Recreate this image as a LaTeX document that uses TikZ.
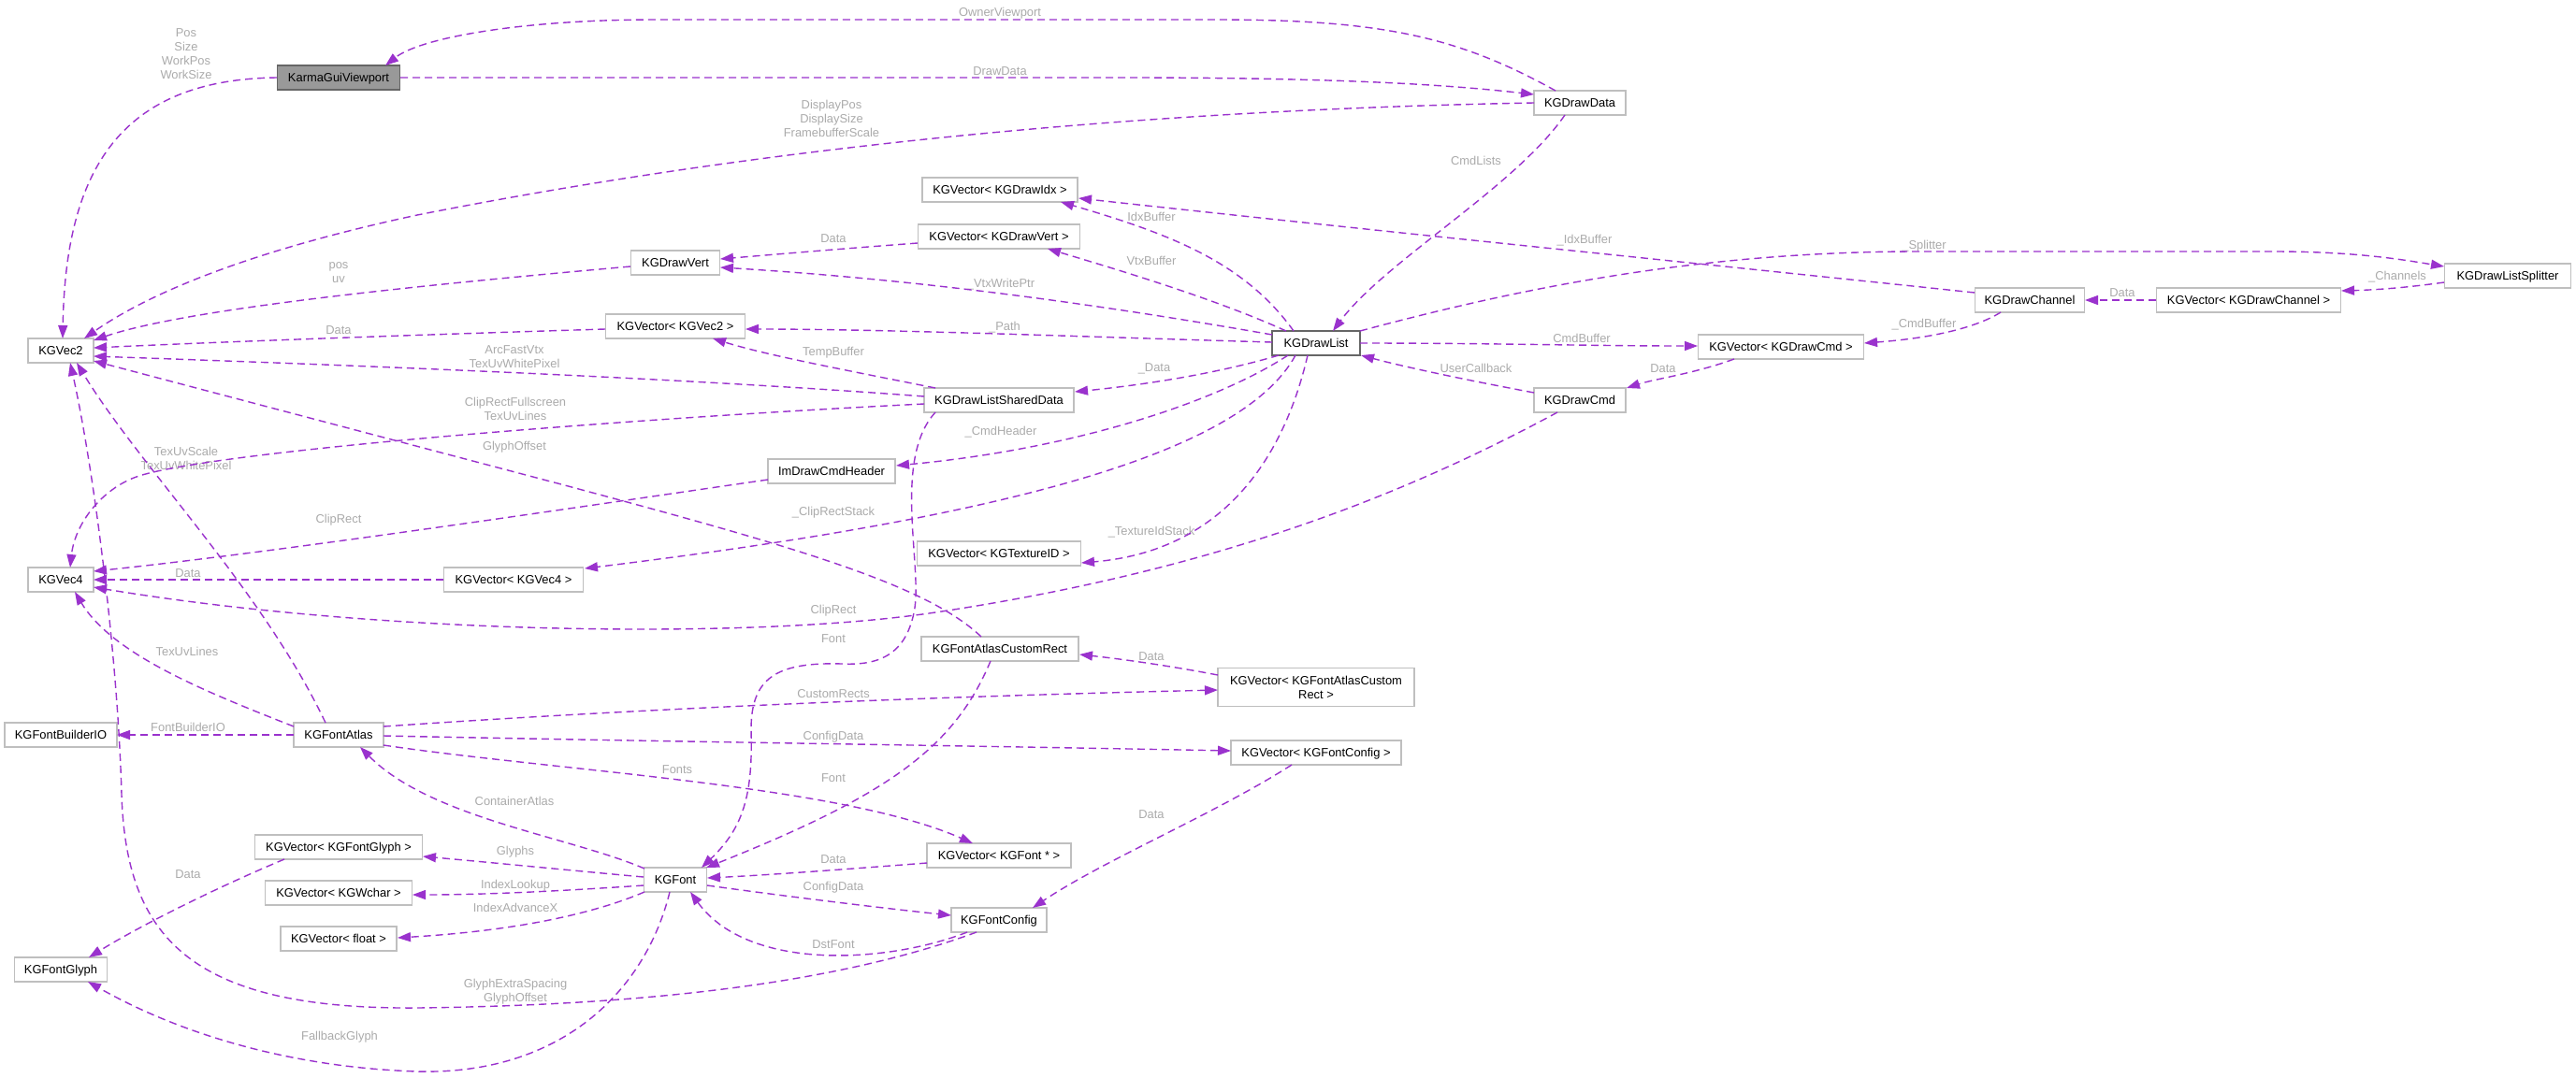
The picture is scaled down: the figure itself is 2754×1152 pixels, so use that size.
\documentclass[tikz,border=0pt]{standalone}
\usepackage{fontspec}
\setmainfont{Liberation Sans}
\usetikzlibrary{arrows.meta,calc}
\definecolor{edgec}{HTML}{9A32CD}
\definecolor{lblc}{HTML}{ABABAB}
\definecolor{bord}{HTML}{BFBFBF}
\definecolor{bordd}{HTML}{666666}
\definecolor{mainfill}{HTML}{999999}
\newcommand{\dfs}{\fontsize{12.9pt}{15pt}\selectfont}
\begin{document}
\begin{tikzpicture}[x=1pt,y=-1pt,
 cls/.style={draw=bord,line width=1.3pt,fill=white,minimum height=26pt,inner sep=0pt,font=\dfs,text=black,align=center,text height=9.6pt,text depth=0.4pt},
 cls2/.style={draw=bord,line width=1.3pt,fill=white,minimum height=41pt,inner sep=0pt,font=\dfs,text=black,align=center},
 lbl/.style={inner sep=0pt,font=\dfs,text=lblc,align=center},
 rel/.style={draw=edgec,line width=1.4pt,dash pattern=on 8pt off 5pt,-{Triangle[length=14pt,width=10pt]}}]
\useasboundingbox[fill=white] (0,0) rectangle (2754,1152);
% nodes
\node[cls,fill=mainfill,draw=bordd,minimum width=131pt] (vp) at (362,83) {KarmaGuiViewport};
\node[cls,minimum width=98pt] (drawdata) at (1689,110) {KGDrawData};
\node[cls,minimum width=70pt] (vec2) at (65,375) {KGVec2};
\node[cls,minimum width=166pt] (vidx) at (1069,203) {KGVector< KGDrawIdx >};
\node[cls,minimum width=173pt] (vvert) at (1068,253) {KGVector< KGDrawVert >};
\node[cls,minimum width=95pt] (dvert) at (722,281) {KGDrawVert};
\node[cls,minimum width=149pt] (vvec2) at (722,349) {KGVector< KGVec2 >};
\node[cls,draw=bordd,minimum width=94pt] (dlist) at (1407,367) {KGDrawList};
\node[cls,minimum width=177pt] (vcmd) at (1904,371) {KGVector< KGDrawCmd >};
\node[cls,minimum width=135pt] (splitter) at (2681,295) {KGDrawListSplitter};
\node[cls,minimum width=197pt] (vchan) at (2404,321) {KGVector< KGDrawChannel >};
\node[cls,minimum width=117pt] (chan) at (2170,321) {KGDrawChannel};
\node[cls,minimum width=160pt] (shared) at (1068,428) {KGDrawListSharedData};
\node[cls,minimum width=98pt] (cmd) at (1689,428) {KGDrawCmd};
\node[cls,minimum width=136pt] (hdr) at (889,504) {ImDrawCmdHeader};
\node[cls,minimum width=175pt] (vtex) at (1068,592) {KGVector< KGTextureID >};
\node[cls,minimum width=70pt] (vec4) at (65,620) {KGVec4};
\node[cls,minimum width=149pt] (vvec4) at (549,620) {KGVector< KGVec4 >};
\node[cls,minimum width=168pt] (crect) at (1069,694) {KGFontAtlasCustomRect};
\node[cls2,minimum width=210pt] (vcrect) at (1407,735) {KGVector< KGFontAtlasCustom\\Rect >};
\node[cls,minimum width=120pt] (fbio) at (65,786) {KGFontBuilderIO};
\node[cls,minimum width=96pt] (atlas) at (362,786) {KGFontAtlas};
\node[cls,minimum width=182pt] (vcfg) at (1407,805) {KGVector< KGFontConfig >};
\node[cls,minimum width=179pt] (vglyph) at (362,906) {KGVector< KGFontGlyph >};
\node[cls,minimum width=154pt] (vfont) at (1068,915) {KGVector< KGFont * >};
\node[cls,minimum width=67pt] (font) at (722,941) {KGFont};
\node[cls,minimum width=157pt] (vwchar) at (362,955) {KGVector< KGWchar >};
\node[cls,minimum width=102pt] (cfg) at (1068,984) {KGFontConfig};
\node[cls,minimum width=124pt] (vfloat) at (362,1004) {KGVector< float >};
\node[cls,minimum width=99pt] (glyph) at (65,1037) {KGFontGlyph};
% labels
\node[lbl] (l1) at (199,58) {Pos\\Size\\WorkPos\\WorkSize};
\node[lbl] (l2) at (1069,76) {DrawData};
\node[lbl] (l3) at (1069,14) {OwnerViewport};
\node[lbl] (l4) at (889,127) {DisplayPos\\DisplaySize\\FramebufferScale};
\node[lbl] (l5) at (1578,172) {CmdLists};
\node[lbl] (l6) at (362,292) {pos\\uv};
\node[lbl] (l7) at (362,353) {Data};
\node[lbl] (l8) at (550,382) {ArcFastVtx\\TexUvWhitePixel};
\node[lbl] (l9) at (551,437) {ClipRectFullscreen\\TexUvLines};
\node[lbl] (l10) at (362,556) {ClipRect};
\node[lbl] (l11) at (201,613) {Data};
\node[lbl] (l12) at (891,653) {ClipRect};
\node[lbl] (l13) at (200,697) {TexUvLines};
\node[lbl] (l14) at (199,490) {TexUvScale\\TexUvWhitePixel};
\node[lbl] (l15) at (551,1061) {GlyphExtraSpacing\\GlyphOffset};
\node[lbl] (l16) at (550,478) {GlyphOffset};
\node[lbl] (l17) at (1231,232) {IdxBuffer};
\node[lbl] (l18) at (1231,279) {VtxBuffer};
\node[lbl] (l19) at (1070,304) {\_VtxWritePtr};
\node[lbl] (l20) at (1074,350) {\_Path};
\node[lbl] (l21) at (1234,394) {\_Data};
\node[lbl] (l22) at (1070,462) {\_CmdHeader};
\node[lbl] (l23) at (891,548) {\_ClipRectStack};
\node[lbl] (l24) at (1231,569) {\_TextureIdStack};
\node[lbl] (l25) at (1691,362) {CmdBuffer};
\node[lbl] (l26) at (2057,263) {\_Splitter};
\node[lbl] (l27) at (1694,257) {\_IdxBuffer};
\node[lbl] (l28) at (2057,347) {\_CmdBuffer};
\node[lbl] (l29) at (2269,313) {Data};
\node[lbl] (l30) at (2563,296) {\_Channels};
\node[lbl] (l31) at (1578,394) {UserCallback};
\node[lbl] (l32) at (1778,394) {Data};
\node[lbl] (l33) at (891,255) {Data};
\node[lbl] (l34) at (891,377) {TempBuffer};
\node[lbl] (l35) at (891,683) {Font};
\node[lbl] (l36) at (891,832) {Font};
\node[lbl] (l37) at (1231,702) {Data};
\node[lbl] (l38) at (891,742) {CustomRects};
\node[lbl] (l39) at (891,788) {ConfigData};
\node[lbl] (l40) at (724,823) {Fonts};
\node[lbl] (l41) at (201,778) {FontBuilderIO};
\node[lbl] (l42) at (550,857) {ContainerAtlas};
\node[lbl] (l43) at (551,911) {Glyphs};
\node[lbl] (l44) at (551,947) {IndexLookup};
\node[lbl] (l45) at (551,971) {IndexAdvanceX};
\node[lbl] (l46) at (363,1109) {FallbackGlyph};
\node[lbl] (l47) at (201,935) {Data};
\node[lbl] (l48) at (891,919) {Data};
\node[lbl] (l49) at (891,949) {ConfigData};
\node[lbl] (l50) at (891,1010) {DstFont};
\node[lbl] (l51) at (1231,871) {Data};
% edges
\draw[rel] ($(vp)+(-66,0)$) .. controls (130,85) and (70,180) .. ($(vec2)+(2,-13)$);
\draw[rel] ($(vp)+(66,0)$) -- (1200,83) .. controls (1450,83) and (1560,92) .. ($(drawdata)+(-49,-9)$);
\draw[rel] ($(drawdata)+(-26,-13)$) .. controls (1560,40) and (1480,21) .. (1300,21) -- (700,21) .. controls (560,21) and (450,40) .. ($(vp)+(50,-13)$);
\draw[rel] ($(drawdata)+(-49,0)$) .. controls (1200,118) and (800,160) .. (446,230) .. controls (250,272) and (150,320) .. ($(vec2)+(25,-13)$);
\draw[rel] ($(drawdata)+(-16,13)$) .. controls (1620,200) and (1480,280) .. ($(dlist)+(18,-13)$);
\draw[rel] ($(dvert)+(-48,4)$) .. controls (450,305) and (200,330) .. ($(vec2)+(35,-11)$);
\draw[rel] ($(vvec2)+(-75,3)$) .. controls (450,358) and (250,365) .. ($(vec2)+(35,-3)$);
\draw[rel] ($(shared)+(-80,-4)$) .. controls (700,402) and (300,388) .. ($(vec2)+(35,6)$);
\draw[rel] ($(shared)+(-80,4)$) .. controls (700,446) and (250,480) .. (152,508) .. controls (110,520) and (80,560) .. ($(vec4)+(10,-13)$);
\draw[rel] ($(hdr)+(-68,9)$) .. controls (600,545) and (300,590) .. ($(vec4)+(35,-9)$);
\draw[rel] ($(vvec4)+(-75,0)$) -- ($(vec4)+(35,0)$);
\draw[rel] ($(cmd)+(-24,13)$) .. controls (1500,530) and (1300,610) .. (1000,655) .. controls (800,685) and (400,678) .. ($(vec4)+(35,8)$);
\draw[rel] ($(atlas)+(-48,-9)$) .. controls (220,740) and (120,700) .. ($(vec4)+(15,13)$);
\draw[rel] ($(atlas)+(-14,-13)$) .. controls (280,630) and (150,500) .. ($(vec2)+(17,13)$);
\draw[rel] ($(cfg)+(-24,13)$) .. controls (900,1050) and (700,1075) .. (446,1078) .. controls (200,1080) and (135,1000) .. (130,850) .. controls (126,700) and (100,500) .. ($(vec2)+(10,13)$);
\draw[rel] ($(crect)+(-20,-13)$) .. controls (990,625) and (850,585) .. (600,518) -- ($(vec2)+(35,11)$);
\draw[rel] ($(dlist)+(-24,-13)$) .. controls (1330,280) and (1250,250) .. ($(vidx)+(65,13)$);
\draw[rel] ($(dlist)+(-32,-13)$) .. controls (1300,320) and (1200,290) .. ($(vvert)+(52,13)$);
\draw[rel] ($(dlist)+(-47,-9)$) .. controls (1200,330) and (1000,300) .. ($(dvert)+(48,5)$);
\draw[rel] ($(dlist)+(-47,-1)$) .. controls (1150,360) and (950,352) .. ($(vvec2)+(75,3)$);
\draw[rel] ($(dlist)+(-40,13)$) .. controls (1300,400) and (1220,412) .. ($(shared)+(81,-9)$);
\draw[rel] ($(dlist)+(-30,13)$) .. controls (1300,430) and (1150,480) .. ($(hdr)+(69,-6)$);
\draw[rel] ($(dlist)+(-22,13)$) .. controls (1330,480) and (1100,550) .. ($(vvec4)+(76,-12)$);
\draw[rel] ($(dlist)+(-9,13)$) .. controls (1370,500) and (1300,590) .. ($(vtex)+(88,10)$);
\draw[rel] ($(dlist)+(47,0)$) .. controls (1600,367) and (1700,370) .. ($(vcmd)+(-89,-1)$);
\draw[rel] ($(dlist)+(47,-13)$) .. controls (1600,315) and (1800,269) .. (2050,269) -- (2430,269) .. controls (2520,269) and (2570,278) .. ($(splitter)+(-68,-10)$);
\draw[rel] ($(chan)+(-59,-8)$) .. controls (1800,280) and (1500,250) .. ($(vidx)+(84,9)$);
\draw[rel] ($(chan)+(-31,13)$) .. controls (2110,352) and (2060,362) .. ($(vcmd)+(89,-4)$);
\draw[rel] ($(vchan)+(-99,0)$) -- ($(chan)+(59,0)$);
\draw[rel] ($(splitter)+(-68,7)$) .. controls (2570,308) and (2540,310) .. ($(vchan)+(99,-10)$);
\draw[rel] ($(cmd)+(-49,-8)$) .. controls (1560,405) and (1500,392) .. ($(dlist)+(48,13)$);
\draw[rel] ($(vcmd)+(-50,13)$) .. controls (1810,400) and (1770,405) .. ($(cmd)+(50,-13)$);
\draw[rel] ($(vvert)+(-87,7)$) .. controls (900,266) and (830,272) .. ($(dvert)+(48,-4)$);
\draw[rel] ($(shared)+(-68,-13)$) .. controls (900,395) and (820,380) .. ($(vvec2)+(40,13)$);
\draw[rel] ($(shared)+(-68,13)$) .. controls (955,490) and (985,600) .. (978,650) .. controls (970,700) and (940,712) .. (900,710) .. controls (830,708) and (803,725) .. (803,780) .. controls (805,850) and (795,885) .. ($(font)+(28,-13)$);
\draw[rel] ($(crect)+(-10,13)$) .. controls (1020,800) and (950,850) .. ($(font)+(33,-13)$);
\draw[rel] ($(vcrect)+(-105,-13)$) .. controls (1250,712) and (1200,705) .. ($(crect)+(85,6)$);
\draw[rel] ($(atlas)+(48,-9)$) .. controls (700,757) and (1000,745) .. ($(vcrect)+(-105,3)$);
\draw[rel] ($(atlas)+(48,1)$) .. controls (700,793) and (1000,797) .. ($(vcfg)+(-91,-2)$);
\draw[rel] ($(atlas)+(48,11)$) .. controls (600,825) and (900,840) .. ($(vfont)+(-28,-13)$);
\draw[rel] ($(atlas)+(-48,0)$) -- ($(fbio)+(60,0)$);
\draw[rel] ($(font)+(-33,-12)$) .. controls (610,895) and (460,875) .. ($(atlas)+(23,13)$);
\draw[rel] ($(font)+(-34,-3)$) .. controls (600,930) and (520,922) .. ($(vglyph)+(90,10)$);
\draw[rel] ($(font)+(-34,6)$) .. controls (600,953) and (520,957) .. ($(vwchar)+(79,2)$);
\draw[rel] ($(font)+(-33,13)$) .. controls (640,975) and (560,995) .. ($(vfloat)+(63,-1)$);
\draw[rel] ($(font)+(-6,13)$) .. controls (690,1060) and (600,1150) .. (446,1146) .. controls (320,1142) and (200,1110) .. ($(glyph)+(29,13)$);
\draw[rel] ($(vglyph)+(-58,13)$) .. controls (230,950) and (150,990) .. ($(glyph)+(30,-13)$);
\draw[rel] ($(vfont)+(-77,8)$) .. controls (900,930) and (820,936) .. ($(font)+(34,-2)$);
\draw[rel] ($(font)+(34,6)$) .. controls (850,960) and (950,972) .. ($(cfg)+(-51,-5)$);
\draw[rel] ($(cfg)+(-34,13)$) .. controls (950,1030) and (800,1040) .. ($(font)+(16,13)$);
\draw[rel] ($(vcfg)+(-26,13)$) .. controls (1300,870) and (1180,920) .. ($(cfg)+(36,-13)$);
\end{tikzpicture}
\end{document}
